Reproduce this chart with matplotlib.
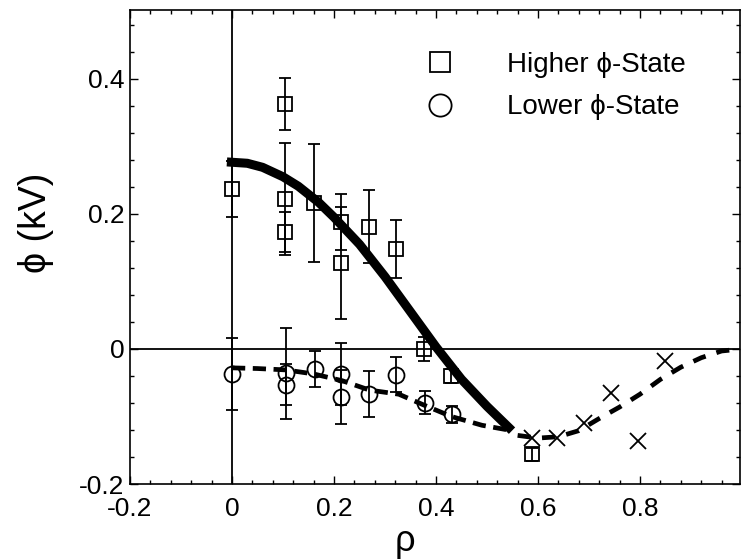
import matplotlib
matplotlib.use("Agg")
import matplotlib.pyplot as plt
from matplotlib.lines import Line2D
from matplotlib.ticker import MultipleLocator

plt.rcParams['font.family'] = ['Liberation Sans', 'DejaVu Sans']

# Higher phi-state (squares)
hi_rho = [0.0, 0.104, 0.104, 0.104, 0.161, 0.214, 0.214, 0.269, 0.322, 0.376, 0.43, 0.588]
hi_phi = [0.237, 0.363, 0.222, 0.173, 0.216, 0.188, 0.127, 0.181, 0.148, 0.0, -0.04, -0.156]
hi_err = [0.041, 0.038, 0.083, 0.03, 0.087, 0.042, 0.083, 0.054, 0.043, 0.018, 0.01, 0.01]

# Lower phi-state (circles)
lo_rho = [0.0, 0.105, 0.105, 0.163, 0.214, 0.214, 0.269, 0.322, 0.378, 0.431]
lo_phi = [-0.037, -0.036, -0.053, -0.03, -0.037, -0.071, -0.067, -0.038, -0.08, -0.097]
lo_err = [0.053, 0.067, 0.03, 0.027, 0.046, 0.04, 0.034, 0.026, 0.017, 0.012]

# crosses
x_rho = [0.588, 0.637, 0.69, 0.743, 0.796, 0.849]
x_phi = [-0.132, -0.132, -0.109, -0.065, -0.136, -0.018]

# fitted curves
fit_hi_rho = [-0.01, 0.03, 0.06, 0.1, 0.13, 0.17, 0.2, 0.25, 0.3, 0.35, 0.4, 0.45, 0.5, 0.549]
fit_hi_phi = [0.277, 0.275, 0.269, 0.255, 0.241, 0.217, 0.195, 0.155, 0.107, 0.055, 0.003, -0.045, -0.085, -0.121]

fit_lo_rho = [0.0, 0.05, 0.105, 0.16, 0.216, 0.27, 0.327, 0.376, 0.43, 0.49, 0.549]
fit_lo_phi = [-0.028, -0.029, -0.031, -0.037, -0.047, -0.061, -0.067, -0.083, -0.1, -0.113, -0.121]

fit_out_rho = [0.56, 0.6, 0.64, 0.68, 0.72, 0.76, 0.8, 0.84, 0.88, 0.92, 0.96, 1.0]
fit_out_phi = [-0.128, -0.132, -0.13, -0.121, -0.103, -0.086, -0.067, -0.045, -0.027, -0.013, -0.003, 0.0]

fig = plt.figure(figsize=(7.41, 5.60), dpi=100)
ax = fig.add_axes([130/741, 76/560, 610/741, 474/560])

ax.axhline(0, color='black', lw=1.3, zorder=1)
ax.axvline(0, color='black', lw=1.3, zorder=1)

ax.errorbar(hi_rho, hi_phi, yerr=hi_err, fmt='s', ms=10.5, mfc='none', mec='black',
            mew=1.3, ecolor='black', elinewidth=1.3, capsize=4.5, capthick=1.3, zorder=3)
ax.errorbar(lo_rho, lo_phi, yerr=lo_err, fmt='o', ms=11.5, mfc='none', mec='black',
            mew=1.3, ecolor='black', elinewidth=1.3, capsize=4.5, capthick=1.3, zorder=3)
ax.plot(x_rho, x_phi, 'x', ms=12, mew=1.3, color='black', zorder=3)

ax.plot(fit_hi_rho, fit_hi_phi, '-', color='black', lw=6.5, solid_capstyle='butt',
        solid_joinstyle='round', zorder=4)
ax.plot(fit_lo_rho, fit_lo_phi, color='black', lw=3.4, dashes=(2.8, 1.6), zorder=4)
ax.plot(fit_out_rho, fit_out_phi, color='black', lw=3.4, dashes=(2.8, 2.4), zorder=4)

ax.set_xlim(-0.2, 0.996)
ax.set_ylim(-0.2, 0.502)
ax.xaxis.set_minor_locator(MultipleLocator(0.04))
ax.yaxis.set_minor_locator(MultipleLocator(0.04))
ax.set_xticks([-0.2, 0, 0.2, 0.4, 0.6, 0.8])
ax.set_xticklabels(['-0.2', '0', '0.2', '0.4', '0.6', '0.8'])
ax.set_yticks([-0.2, 0, 0.2, 0.4])
ax.set_yticklabels(['-0.2', '0', '0.2', '0.4'])
ax.tick_params(which='both', direction='in', top=True, right=True, labelsize=19, width=1)
ax.tick_params(which='major', length=6)
ax.tick_params(which='minor', length=3)
ax.tick_params(axis='x', which='major', pad=9)
ax.tick_params(axis='y', which='major', pad=4)
for s in ax.spines.values():
    s.set_linewidth(1.2)

ax.set_ylabel('ϕ (kV)', fontsize=27)
ax.yaxis.set_label_coords(-0.125, 0.55)
ax.set_xlabel('ρ', fontsize=26)
ax.xaxis.set_label_coords(0.45, -0.085)

handles = [
    Line2D([], [], marker='s', ls='none', ms=15, mfc='none', mec='black', mew=1.3),
    Line2D([], [], marker='o', ls='none', ms=16, mfc='none', mec='black', mew=1.3),
]
ax.legend(handles, ['Higher ϕ-State', 'Lower ϕ-State'], loc='upper left',
          bbox_to_anchor=(0.49, 0.912), frameon=False, fontsize=20, handlelength=0.8,
          handletextpad=2.0, labelspacing=0.6, borderpad=0, borderaxespad=0)

fig.savefig('out.png', dpi=100)
